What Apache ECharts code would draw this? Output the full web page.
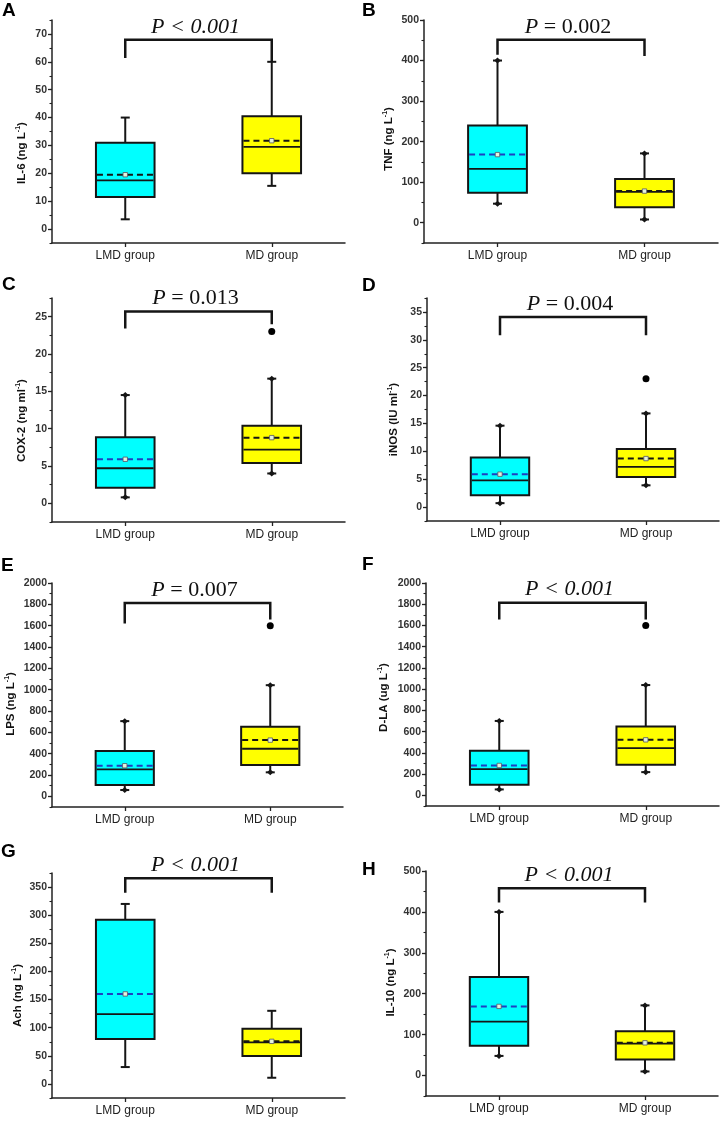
<!DOCTYPE html>
<html><head><meta charset="utf-8">
<script src="https://cdn.jsdelivr.net/npm/echarts@6/dist/echarts.min.js"></script>
<style>html,body{margin:0;padding:0;background:#fff}#c{width:720px;height:1127px}</style>
</head><body><div id="c"></div>
<script>
// ---------------- DATA ----------------
const categories = ['LMD group', 'MD group'];
const panelLetters = ['A', 'B', 'C', 'D', 'E', 'F', 'G', 'H'];
const yNameMain = ['IL-6 (ng L', 'TNF (ng L', 'COX-2 (ng ml', 'iNOS (IU ml', 'LPS (ng L', 'D-LA (ug L', 'Ach (ng L', 'IL-10 (ng L'];
const yNameSup = '-1';
const whiskerLow  = [[3.5, 15.5], [47, 8], [0.8, 4.0], [0.7, 3.9], [59, 225], [56, 219], [30, 11], [48, 10]];
const q1          = [[11.5, 20], [74, 38], [2.1, 5.4], [2.1, 5.4], [106, 293], [100, 288], [80, 49.5], [73, 39]];
const median      = [[17.5, 29.5], [133, 76], [4.7, 7.2], [4.8, 7.2], [253, 446], [248, 445], [124, 74], [132, 78]];
const q3          = [[31, 40.5], [240, 108], [8.85, 10.4], [8.9, 10.4], [424, 652], [420, 648], [292, 98], [241, 108]];
const whiskerHigh = [[40, 60], [400, 171], [14.5, 16.7], [14.6, 16.8], [705, 1042], [701, 1039], [320, 130], [400, 171.5]];
const means       = [[19.5, 31.7], [168, 78], [5.9, 8.8], [5.9, 8.7], [287, 527], [282, 523], [160, 75.7], [169, 80]];
const outliers    = [[], [], [[1, 23.0]], [[1, 23.0]], [[1, 1600]], [[1, 1600]], [], []];
const bracketTop  = [67.9, 451, 25.7, 34.1, 1813, 1815, 365.5, 457.6];
const bracketLegs = [[61.4, 60], [414, 411], [23.4, 24.0], [30.8, 30.8], [1620, 1657], [1656, 1656], [340, 340], [423, 423]];
const pLabels     = ['P < 0.001', 'P = 0.002', 'P = 0.013', 'P = 0.004', 'P = 0.007', 'P < 0.001', 'P < 0.001', 'P < 0.001'];
const pAllItalic  = [true, false, false, false, false, true, true, true];
const yMin        = [-5, -50, -2.5, -2.5, -100, -100, -25, -50];
const yMax        = [75, 500, 27.5, 37.5, 2000, 2000, 375, 500];
const yMajorStep  = [10, 100, 5, 5, 200, 200, 50, 100];
const yMinorStep  = [5, 50, 2.5, 2.5, 100, 100, 25, 50];

// ---------------- LAYOUT / STYLE ----------------
const grids = [[52, 20, 293, 223], [424, 20, 294, 223], [52, 298, 293, 224], [427, 298, 292, 223],
               [52, 583, 291, 224], [426, 583, 293, 223], [52, 873, 293, 225], [426, 871, 292, 225]];
const letterPos = [[2, 1], [362, 1], [2, 275], [362, 276], [1, 556], [362, 555], [1, 842], [362, 860]];
const namePos = [[21.5, 153], [389, 139], [22, 420.5], [394, 419.5], [11, 704], [384, 697.5], [17.5, 995.5], [391, 982.5]];
const BLUE = '#1f3fc0', DARK = '#151515';
const meanColors = [[DARK, DARK], [BLUE, DARK], [BLUE, DARK], [BLUE, DARK], [BLUE, DARK], [BLUE, DARK], [BLUE, DARK], [BLUE, DARK]];
const boxColors = ['#00FFFF', '#FFFF00'];
const capDiamond = [false, true, true, true, true, true, false, true];
const SANS = 'Arial, "Liberation Sans", sans-serif';
const SERIF = '"Times New Roman", "Liberation Serif", serif';

function majors(g) {
  const out = [];
  for (let v = 0; v <= yMax[g] + 1e-9; v += yMajorStep[g]) out.push(+v.toFixed(4));
  return out;
}

function boxRenderer(g) {
  return function (params, api) {
    const i = api.value(0);
    const x = api.coord([i, 0])[0];
    const bw = api.size([1, 0])[0] * 0.4;
    const Y = v => api.coord([i, v])[1];
    const yWL = Y(api.value(1)), yQ1 = Y(api.value(2)), yMed = Y(api.value(3)),
          yQ3 = Y(api.value(4)), yWH = Y(api.value(5)), yMean = Y(api.value(6));
    const L = x - bw / 2, R = x + bw / 2;
    const ch = [];
    const line = (x1, y1, x2, y2, w, color, dash) => ch.push({
      type: 'line', shape: { x1, y1, x2, y2 },
      style: { stroke: color || DARK, lineWidth: w, lineDash: dash || null }
    });
    line(x, yQ3, x, yWH, 2);
    line(x, yQ1, x, yWL, 2);
    [yWH, yWL].forEach(yc => {
      line(x - 4.5, yc, x + 4.5, yc, 2);
      if (capDiamond[g]) {
        ch.push({ type: 'polygon', shape: { points: [[x, yc - 3], [x + 3.2, yc], [x, yc + 3], [x - 3.2, yc]] },
          style: { fill: DARK } });
      }
    });
    ch.push({ type: 'rect', shape: { x: L, y: yQ3, width: bw, height: yQ1 - yQ3 },
      style: { fill: boxColors[i], stroke: DARK, lineWidth: 2 } });
    line(L + 1, yMed, R - 1, yMed, 1.8);
    line(L + 1, yMean, R - 1, yMean, 2, meanColors[g][i], [6, 4]);
    ch.push({ type: 'rect', shape: { x: x - 2.2, y: yMean - 2.2, width: 4.4, height: 4.4 },
      style: { fill: '#e4f4dc', stroke: '#556', lineWidth: 0.8 } });
    return { type: 'group', children: ch };
  };
}

function bracketRenderer(g) {
  return function (params, api) {
    const top = api.value(1), legL = api.value(2), legR = api.value(3);
    const p0 = api.coord([0, top]), p1 = api.coord([1, top]);
    const yL = api.coord([0, legL])[1], yR = api.coord([1, legR])[1];
    const label = pLabels[g];
    const txt = pAllItalic[g] ? '{i|' + label + '}' : '{i|' + label.slice(0, 1) + '}{n|' + label.slice(1) + '}';
    return {
      type: 'group', children: [
        { type: 'polyline', shape: { points: [[p0[0], yL], [p0[0], p0[1]], [p1[0], p1[1]], [p1[0], yR]] },
          style: { stroke: DARK, lineWidth: 2.5, fill: null } },
        { type: 'text', x: (p0[0] + p1[0]) / 2 - 3, y: p0[1] - 13,
          style: { text: txt, align: 'center', verticalAlign: 'middle', fill: '#111',
            rich: {
              i: { fontFamily: SERIF, fontStyle: 'italic', fontSize: 22, fill: '#111' },
              n: { fontFamily: SERIF, fontSize: 22, fill: '#111' }
            } } }
      ]
    };
  };
}

const option = { animation: false, backgroundColor: '#fff', grid: [], xAxis: [], yAxis: [], series: [], graphic: [] };

for (let g = 0; g < 8; g++) {
  const [l, t, w, h] = grids[g];
  option.grid.push({ left: l, top: t, width: w, height: h, containLabel: false });
  option.xAxis.push({
    type: 'category', gridIndex: g, data: categories, boundaryGap: true, position: 'bottom',
    axisLine: { show: true, onZero: false, lineStyle: { color: '#222', width: 1.5 } },
    axisTick: { show: true, alignWithLabel: true, length: 4, lineStyle: { color: '#222', width: 1.3 } },
    axisLabel: { margin: 7, fontSize: 12, color: '#222', fontFamily: SANS },
    splitLine: { show: false }
  });
  const mj = majors(g);
  option.yAxis.push({
    type: 'value', gridIndex: g, position: 'left', offset: 0, min: yMin[g], max: yMax[g], interval: yMinorStep[g],
    axisLine: { show: true, onZero: false, lineStyle: { color: '#222', width: 1.5 } },
    axisTick: { show: true, length: 4, customValues: mj, lineStyle: { color: '#222', width: 1.3 } },
    axisLabel: {
      margin: 5, fontSize: 10.5, fontWeight: 'bold', color: '#333', fontFamily: SANS,
      customValues: mj,
      formatter: v => {
        const k = v / yMajorStep[g];
        return (Math.abs(k - Math.round(k)) < 1e-6 && v >= 0) ? String(+(+v).toFixed(3)) : '';
      }
    },
    splitLine: { show: false }
  });
  option.yAxis.push({
    type: 'value', gridIndex: g, position: 'left', offset: 0, min: yMin[g], max: yMax[g], interval: yMinorStep[g],
    axisLine: { show: false, onZero: false },
    axisTick: { show: true, length: 2.5, lineStyle: { color: '#222', width: 1.1 } },
    axisLabel: { show: false }, splitLine: { show: false }
  });

  const boxData = [0, 1].map(i => [i, whiskerLow[g][i], q1[g][i], median[g][i], q3[g][i], whiskerHigh[g][i], means[g][i]]);
  option.series.push({
    type: 'custom', xAxisIndex: g, yAxisIndex: 2 * g, data: boxData,
    encode: { x: 0, y: [1, 2, 3, 4, 5, 6] }, renderItem: boxRenderer(g), z: 3
  });
  if (outliers[g].length) {
    option.series.push({
      type: 'scatter', xAxisIndex: g, yAxisIndex: 2 * g, data: outliers[g],
      symbol: 'circle', symbolSize: 7, itemStyle: { color: '#000', opacity: 1, borderWidth: 0 }, z: 4
    });
  }
  option.series.push({
    type: 'custom', xAxisIndex: g, yAxisIndex: 2 * g,
    data: [[0, bracketTop[g], bracketLegs[g][0], bracketLegs[g][1]]],
    encode: { x: 0, y: [1, 2, 3] }, renderItem: bracketRenderer(g), z: 5
  });

  option.graphic.push({
    type: 'text', x: letterPos[g][0], y: letterPos[g][1],
    style: { text: panelLetters[g], font: 'bold 19px ' + SANS, fill: '#000', align: 'left', verticalAlign: 'top' }
  });
  option.graphic.push({
    type: 'text', x: namePos[g][0], y: namePos[g][1], rotation: Math.PI / 2,
    style: {
      text: '{m|' + yNameMain[g] + '}{s|' + yNameSup + '}{m|)}',
      align: 'center', verticalAlign: 'middle', fill: '#111',
      rich: {
        m: { fontFamily: SANS, fontWeight: 'bold', fontSize: 11.5, fill: '#111', lineHeight: 14 },
        s: { fontFamily: SANS, fontWeight: 'bold', fontSize: 7, fill: '#111', verticalAlign: 'top', lineHeight: 14 }
      }
    }
  });
}

const chart = echarts.init(document.getElementById('c'), null, { renderer: 'canvas' });
chart.setOption(option);
</script>
</body></html>
